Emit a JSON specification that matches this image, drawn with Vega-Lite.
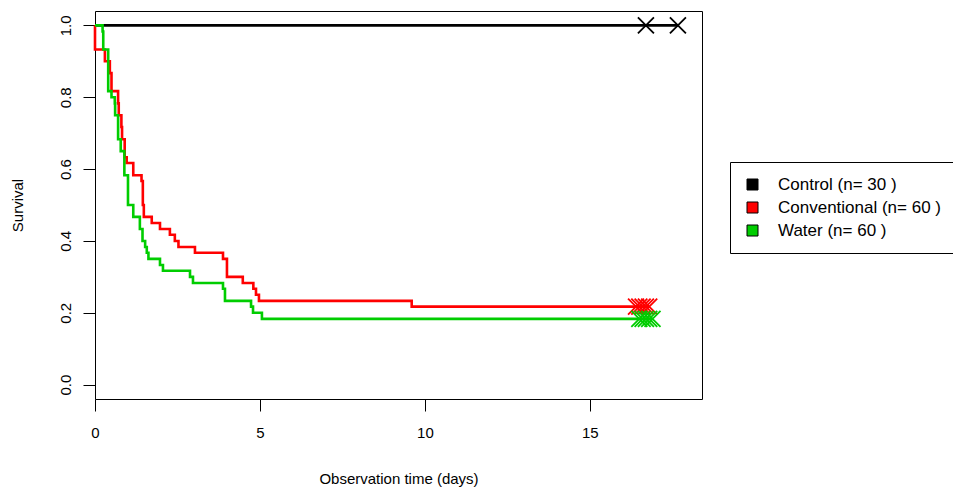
{
  "$schema": "https://vega.github.io/schema/vega-lite/v6.json",
  "width": 607,
  "height": 388,
  "autosize": {"type": "none"},
  "padding": {"left": 95, "top": 11, "right": 251, "bottom": 91},
  "background": "white",
  "config": {
    "font": "Liberation Sans",
    "view": {"stroke": "black", "strokeWidth": 1},
    "axis": {
      "grid": false,
      "domain": false,
      "tickColor": "black",
      "tickWidth": 1,
      "tickSize": 12,
      "labelColor": "black",
      "labelFontSize": 15,
      "labelFont": "Liberation Sans",
      "titleColor": "black",
      "titleFontSize": 15,
      "titleFont": "Liberation Sans",
      "titleFontWeight": "normal"
    }
  },
  "datasets": {
    "curves": [
      {"group": "Control (n= 30 )", "t": 0, "s": 1},
      {"group": "Control (n= 30 )", "t": 17.67, "s": 1},
      {"group": "Conventional (n= 60 )", "t": 0, "s": 1},
      {"group": "Conventional (n= 60 )", "t": 0, "s": 0.933},
      {"group": "Conventional (n= 60 )", "t": 0.3, "s": 0.9},
      {"group": "Conventional (n= 60 )", "t": 0.45, "s": 0.867},
      {"group": "Conventional (n= 60 )", "t": 0.5, "s": 0.817},
      {"group": "Conventional (n= 60 )", "t": 0.7, "s": 0.783},
      {"group": "Conventional (n= 60 )", "t": 0.72, "s": 0.75},
      {"group": "Conventional (n= 60 )", "t": 0.8, "s": 0.717},
      {"group": "Conventional (n= 60 )", "t": 0.82, "s": 0.683},
      {"group": "Conventional (n= 60 )", "t": 0.9, "s": 0.633},
      {"group": "Conventional (n= 60 )", "t": 0.96, "s": 0.617},
      {"group": "Conventional (n= 60 )", "t": 1.16, "s": 0.583},
      {"group": "Conventional (n= 60 )", "t": 1.41, "s": 0.567},
      {"group": "Conventional (n= 60 )", "t": 1.45, "s": 0.5},
      {"group": "Conventional (n= 60 )", "t": 1.48, "s": 0.467},
      {"group": "Conventional (n= 60 )", "t": 1.72, "s": 0.45},
      {"group": "Conventional (n= 60 )", "t": 1.97, "s": 0.433},
      {"group": "Conventional (n= 60 )", "t": 2.27, "s": 0.417},
      {"group": "Conventional (n= 60 )", "t": 2.42, "s": 0.4},
      {"group": "Conventional (n= 60 )", "t": 2.53, "s": 0.383},
      {"group": "Conventional (n= 60 )", "t": 3.03, "s": 0.367},
      {"group": "Conventional (n= 60 )", "t": 3.88, "s": 0.35},
      {"group": "Conventional (n= 60 )", "t": 4.0, "s": 0.3},
      {"group": "Conventional (n= 60 )", "t": 4.48, "s": 0.283},
      {"group": "Conventional (n= 60 )", "t": 4.8, "s": 0.267},
      {"group": "Conventional (n= 60 )", "t": 4.88, "s": 0.25},
      {"group": "Conventional (n= 60 )", "t": 4.97, "s": 0.233},
      {"group": "Conventional (n= 60 )", "t": 9.6, "s": 0.217},
      {"group": "Conventional (n= 60 )", "t": 16.8, "s": 0.217},
      {"group": "Water (n= 60 )", "t": 0, "s": 1},
      {"group": "Water (n= 60 )", "t": 0.23, "s": 0.983},
      {"group": "Water (n= 60 )", "t": 0.25, "s": 0.933},
      {"group": "Water (n= 60 )", "t": 0.4, "s": 0.817},
      {"group": "Water (n= 60 )", "t": 0.5, "s": 0.8},
      {"group": "Water (n= 60 )", "t": 0.6, "s": 0.783},
      {"group": "Water (n= 60 )", "t": 0.61, "s": 0.75},
      {"group": "Water (n= 60 )", "t": 0.7, "s": 0.683},
      {"group": "Water (n= 60 )", "t": 0.78, "s": 0.65},
      {"group": "Water (n= 60 )", "t": 0.89, "s": 0.583},
      {"group": "Water (n= 60 )", "t": 1.0, "s": 0.5},
      {"group": "Water (n= 60 )", "t": 1.16, "s": 0.467},
      {"group": "Water (n= 60 )", "t": 1.36, "s": 0.433},
      {"group": "Water (n= 60 )", "t": 1.44, "s": 0.4},
      {"group": "Water (n= 60 )", "t": 1.52, "s": 0.383},
      {"group": "Water (n= 60 )", "t": 1.57, "s": 0.367},
      {"group": "Water (n= 60 )", "t": 1.62, "s": 0.35},
      {"group": "Water (n= 60 )", "t": 1.97, "s": 0.333},
      {"group": "Water (n= 60 )", "t": 2.06, "s": 0.317},
      {"group": "Water (n= 60 )", "t": 2.88, "s": 0.3},
      {"group": "Water (n= 60 )", "t": 2.97, "s": 0.283},
      {"group": "Water (n= 60 )", "t": 3.88, "s": 0.267},
      {"group": "Water (n= 60 )", "t": 3.94, "s": 0.233},
      {"group": "Water (n= 60 )", "t": 4.73, "s": 0.217},
      {"group": "Water (n= 60 )", "t": 4.79, "s": 0.2},
      {"group": "Water (n= 60 )", "t": 5.06, "s": 0.183},
      {"group": "Water (n= 60 )", "t": 16.9, "s": 0.183}
    ],
    "censors": [
      {"group": "Control (n= 30 )", "t": 16.7, "s": 1},
      {"group": "Control (n= 30 )", "t": 17.67, "s": 1},
      {"group": "Conventional (n= 60 )", "t": 16.4, "s": 0.217},
      {"group": "Conventional (n= 60 )", "t": 16.5, "s": 0.217},
      {"group": "Conventional (n= 60 )", "t": 16.6, "s": 0.217},
      {"group": "Conventional (n= 60 )", "t": 16.7, "s": 0.217},
      {"group": "Conventional (n= 60 )", "t": 16.8, "s": 0.217},
      {"group": "Water (n= 60 )", "t": 16.5, "s": 0.183},
      {"group": "Water (n= 60 )", "t": 16.6, "s": 0.183},
      {"group": "Water (n= 60 )", "t": 16.7, "s": 0.183},
      {"group": "Water (n= 60 )", "t": 16.8, "s": 0.183},
      {"group": "Water (n= 60 )", "t": 16.9, "s": 0.183}
    ]
  },
  "layer": [
    {
      "data": {"name": "curves"},
      "mark": {"type": "line", "interpolate": "step-after", "strokeWidth": 2.6},
      "encoding": {
        "x": {
          "field": "t", "type": "quantitative",
          "scale": {"domain": [0, 18.4], "nice": false, "zero": false},
          "axis": {"values": [0, 5, 10, 15], "title": "Observation time (days)", "labelPadding": 14, "titlePadding": 31, "labelFlush": false}
        },
        "y": {
          "field": "s", "type": "quantitative",
          "scale": {"domain": [-0.04, 1.04], "nice": false, "zero": false},
          "axis": {"values": [0, 0.2, 0.4, 0.6, 0.8, 1.0], "format": ".1f", "title": "Survival", "labelAngle": -90, "labelAlign": "center", "labelBaseline": "bottom", "labelPadding": 10, "titlePadding": 33, "labelFlush": false}
        },
        "stroke": {
          "field": "group", "type": "nominal",
          "scale": {"range": ["#000000", "#FF0000", "#00CD00"]},
          "legend": null
        },
        "detail": {"field": "group"},
        "order": {"field": "t"}
      }
    },
    {
      "data": {"name": "censors"},
      "mark": {"type": "point", "shape": "M-1,-1L1,1M-1,1L1,-1", "strokeWidth": 1.8, "size": 256, "opacity": 1},
      "encoding": {
        "x": {"field": "t", "type": "quantitative"},
        "y": {"field": "s", "type": "quantitative"},
        "stroke": {
          "field": "group", "type": "nominal",
          "legend": null
        },
        "fill": {
          "field": "group", "type": "nominal",
          "scale": {"domain": ["Control (n= 30 )", "Conventional (n= 60 )", "Water (n= 60 )"], "range": ["#000000", "#FF0000", "#00CD00"]},
          "legend": {
            "title": null,
            "orient": "none",
            "legendX": 635,
            "legendY": 151,
            "padding": 14,
            "strokeColor": "black",
            "fillColor": "white",
            "symbolType": "square",
            "symbolSize": 121,
            "symbolStrokeColor": "black",
            "symbolStrokeWidth": 1,
            "symbolOpacity": 1,
            "labelFontSize": 17,
            "labelFont": "Liberation Sans",
            "labelColor": "black",
            "labelOffset": 17,
            "rowPadding": 5,
            "labelLimit": 400
          }
        }
      }
    }
  ]
}
